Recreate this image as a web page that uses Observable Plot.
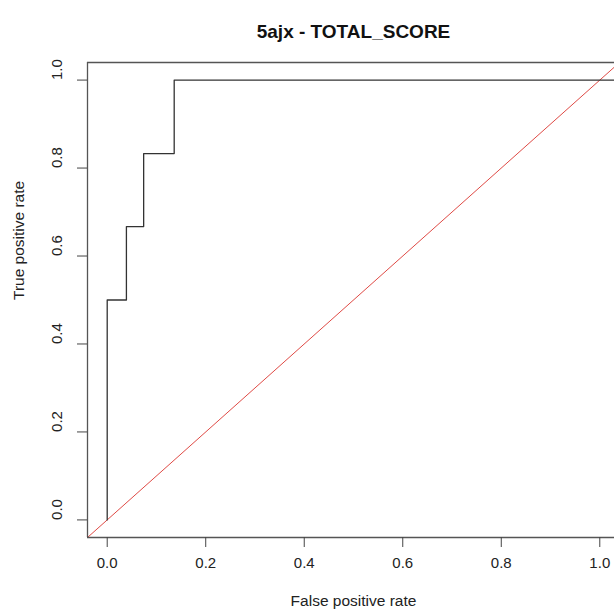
<!DOCTYPE html>
<html>
<head>
<meta charset="utf-8">
<script src="https://cdn.jsdelivr.net/npm/d3@7"></script>
<script src="https://cdn.jsdelivr.net/npm/@observablehq/plot@0.6"></script>
<style>
  html, body { margin: 0; padding: 0; background: #fff; overflow: hidden; }
</style>
</head>
<body>
<div id="chart"></div>
<script>
// ROC curve (step) points: false positive rate / true positive rate
const fpr = [0, 0, 0.039, 0.039, 0.074, 0.074, 0.136, 0.136, 1.04];
const tpr = [0, 0.5, 0.5, 0.667, 0.667, 0.833, 0.833, 1, 1];
const xTicks = [0, 0.2, 0.4, 0.6, 0.8, 1.0];
const yTicks = [0, 0.2, 0.4, 0.6, 0.8, 1.0];
const diagonal = [-0.04, 1.04];
const titleText = "5ajx - TOTAL_SCORE";
const xLabel = "False positive rate";
const yLabel = "True positive rate";

const roc = fpr.map((x, i) => ({x, y: tpr[i]}));
const fmt = d => d.toFixed(1);
const font = "Liberation Sans, Arial, Helvetica, sans-serif";

const chart = Plot.plot({
  width: 614,
  height: 614,
  marginLeft: 87,
  marginRight: -5,
  marginTop: 62,
  marginBottom: 77,
  style: {fontFamily: font, background: "#fff", overflow: "hidden"},
  x: {domain: [-0.04, 1.04], axis: null},
  y: {domain: [-0.04, 1.04], axis: null},
  marks: [
    Plot.line(diagonal.map(v => ({x: v, y: v})), {x: "x", y: "y", stroke: "#df4a45", strokeWidth: 1}),
    Plot.line(roc, {x: "x", y: "y", stroke: "#333", strokeWidth: 1.3}),
    Plot.ruleY([diagonal[0], diagonal[1]], {stroke: "#555", strokeWidth: 1.3}),
    Plot.ruleX([diagonal[0]], {stroke: "#555", strokeWidth: 1.3}),
    Plot.axisX(xTicks, {tickSize: 10, tickFormat: () => "", stroke: "#444", label: null}),
    Plot.axisY(yTicks, {tickSize: 10, tickFormat: () => "", stroke: "#444", label: null}),
    Plot.text(xTicks, {x: d => d, text: fmt, frameAnchor: "bottom", dy: 30, fontSize: 15, fill: "#222"}),
    Plot.text(yTicks, {y: d => d, text: fmt, frameAnchor: "left", dx: -30, rotate: -90, fontSize: 15, fill: "#222"}),
    Plot.text([xLabel], {text: d => d, frameAnchor: "bottom", dy: 68, fontSize: 15.5, fill: "#222"}),
    Plot.text([yLabel], {text: d => d, frameAnchor: "left", dx: -68, rotate: -90, fontSize: 15.5, fill: "#222"}),
    Plot.text([titleText], {text: d => d, frameAnchor: "top", dy: -38, fontSize: 19, fontWeight: "bold", fill: "#111"})
  ]
});
document.getElementById("chart").appendChild(chart);
</script>
</body>
</html>
